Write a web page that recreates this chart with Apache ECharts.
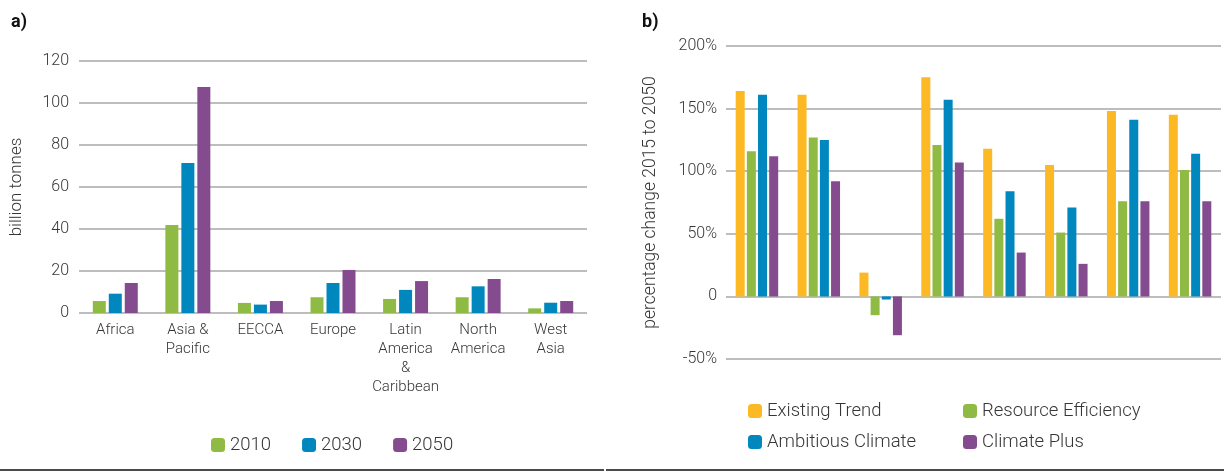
<!DOCTYPE html>
<html>
<head>
<meta charset="utf-8">
<script src="https://cdn.jsdelivr.net/npm/echarts@6/dist/echarts.min.js"></script>
<style>
  html, body { margin: 0; padding: 0; background: #ffffff; }
  #chart { width: 1224px; height: 473px; }
</style>
</head>
<body>
<div id="chart"></div>
<script>
// a) material extraction by region (billion tonnes)
const regions = ['Africa', 'Asia & Pacific', 'EECCA', 'Europe', 'Latin America & Caribbean', 'North America', 'West Asia'];
const regionLabels = ['Africa', 'Asia &\nPacific', 'EECCA', 'Europe', 'Latin\nAmerica\n&\nCaribbean', 'North\nAmerica', 'West\nAsia'];
const years = ['2010', '2030', '2050'];
const values2010 = [5.7, 41.9, 4.8, 7.5, 6.7, 7.5, 2.2];
const values2030 = [9.2, 71.4, 4.0, 14.3, 11.0, 12.7, 4.9];
const values2050 = [14.3, 107.6, 5.7, 20.5, 15.2, 16.2, 5.7];
const tonnesTicks = { min: 0, max: 120, interval: 20 };

// b) percentage change 2015 to 2050 by scenario
const scenarioGroups = ['Africa', 'Asia & Pacific', 'EECCA', 'Europe', 'Latin America & Caribbean', 'North America', 'West Asia', 'World'];
const scenarios = ['Existing Trend', 'Resource Efficiency', 'Ambitious Climate', 'Climate Plus'];
const existingTrend = [164, 161, 19, 175, 118, 105, 148, 145];
const resourceEfficiency = [116, 127, -15, 121, 62, 51, 76, 101];
const ambitiousClimate = [161, 125, -2.5, 157, 84, 71, 141, 114];
const climatePlus = [112, 92, -31, 107, 35, 26, 76, 76];
const percentTicks = { min: -50, max: 200, interval: 50 };

const COLORS = {
  yellow: '#FDB924',
  green: '#8FBB45',
  blue: '#0088BE',
  purple: '#844B8E'
};
const FONT = 'Roboto, "Noto Sans", sans-serif';
const TEXT = '#363636';
const GRID_LINE = { lineStyle: { color: '#bdbdbd', width: 2 } };

const chart = echarts.init(document.getElementById('chart'), null, { renderer: 'canvas' });

function bar(name, data, color, axisIndex, width, gap) {
  return {
    name: name,
    type: 'bar',
    xAxisIndex: axisIndex,
    yAxisIndex: axisIndex,
    data: data,
    barWidth: width,
    barGap: gap,
    itemStyle: { color: color },
    emphasis: { disabled: true }
  };
}

const legendText = { color: TEXT, fontSize: 18.5, fontFamily: FONT, fontWeight: 300, lineHeight: 20 };

chart.setOption({
  animation: false,
  textStyle: { fontFamily: FONT },
  graphic: [
    { type: 'text', left: 11, top: 13, style: { text: 'a)', font: 'bold 18px ' + FONT, fill: '#111' } },
    { type: 'text', left: 642, top: 13, style: { text: 'b)', font: 'bold 18px ' + FONT, fill: '#111' } },
    { type: 'rect', shape: { x: 0, y: 469, width: 604, height: 2 }, style: { fill: '#4a4a4a' } },
    { type: 'rect', shape: { x: 606, y: 469, width: 618, height: 2 }, style: { fill: '#4a4a4a' } }
  ],
  legend: [
    {
      data: years,
      left: 211, top: 435,
      padding: 0,
      itemWidth: 14, itemHeight: 14, itemGap: 31,
      icon: 'roundRect',
      textStyle: legendText
    },
    {
      data: [scenarios[0], scenarios[2]],
      orient: 'vertical',
      left: 748, top: 401,
      padding: 0,
      itemWidth: 14, itemHeight: 14, itemGap: 11,
      icon: 'roundRect',
      textStyle: legendText
    },
    {
      data: [scenarios[1], scenarios[3]],
      orient: 'vertical',
      left: 963, top: 401,
      padding: 0,
      itemWidth: 14, itemHeight: 14, itemGap: 11,
      icon: 'roundRect',
      textStyle: legendText
    }
  ],
  grid: [
    { left: 79, right: 637, top: 61, bottom: 160 },
    { left: 726, right: 3, top: 46, bottom: 114 }
  ],
  xAxis: [
    {
      type: 'category',
      gridIndex: 0,
      data: regions,
      axisLine: { show: false },
      axisTick: { show: false },
      axisLabel: {
        interval: 0,
        margin: 8,
        color: TEXT,
        fontSize: 15,
        lineHeight: 19,
        fontFamily: FONT,
        fontWeight: 300,
        formatter: (value, idx) => regionLabels[idx]
      }
    },
    {
      type: 'category',
      gridIndex: 1,
      data: scenarioGroups,
      axisLine: { show: false },
      axisTick: { show: false },
      axisLabel: { show: false }
    }
  ],
  yAxis: [
    {
      type: 'value',
      gridIndex: 0,
      min: tonnesTicks.min, max: tonnesTicks.max, interval: tonnesTicks.interval,
      name: 'billion tonnes',
      nameLocation: 'middle',
      nameGap: 54,
      nameTextStyle: { color: TEXT, fontSize: 17, fontFamily: FONT, fontWeight: 300 },
      axisLine: { show: false },
      axisTick: { show: false },
      axisLabel: { margin: 10, color: TEXT, fontSize: 16, fontFamily: FONT, fontWeight: 300 },
      splitLine: GRID_LINE
    },
    {
      type: 'value',
      gridIndex: 1,
      min: percentTicks.min, max: percentTicks.max, interval: percentTicks.interval,
      name: 'percentage change 2015 to 2050',
      nameLocation: 'middle',
      nameGap: 66,
      nameTextStyle: { color: TEXT, fontSize: 17.5, fontFamily: FONT, fontWeight: 300 },
      axisLine: { show: false },
      axisTick: { show: false },
      axisLabel: {
        margin: 9, color: TEXT, fontSize: 16, fontFamily: FONT, fontWeight: 300,
        formatter: v => (v === 0 ? '0' : v + '%')
      },
      splitLine: GRID_LINE
    }
  ],
  series: [
    bar(years[0], values2010, COLORS.green, 0, 13, '23%'),
    bar(years[1], values2030, COLORS.blue, 0, 13, '23%'),
    bar(years[2], values2050, COLORS.purple, 0, 13, '23%'),
    bar(scenarios[0], existingTrend, COLORS.yellow, 1, 9, '24%'),
    bar(scenarios[1], resourceEfficiency, COLORS.green, 1, 9, '24%'),
    bar(scenarios[2], ambitiousClimate, COLORS.blue, 1, 9, '24%'),
    bar(scenarios[3], climatePlus, COLORS.purple, 1, 9, '24%')
  ]
});
</script>
</body>
</html>
